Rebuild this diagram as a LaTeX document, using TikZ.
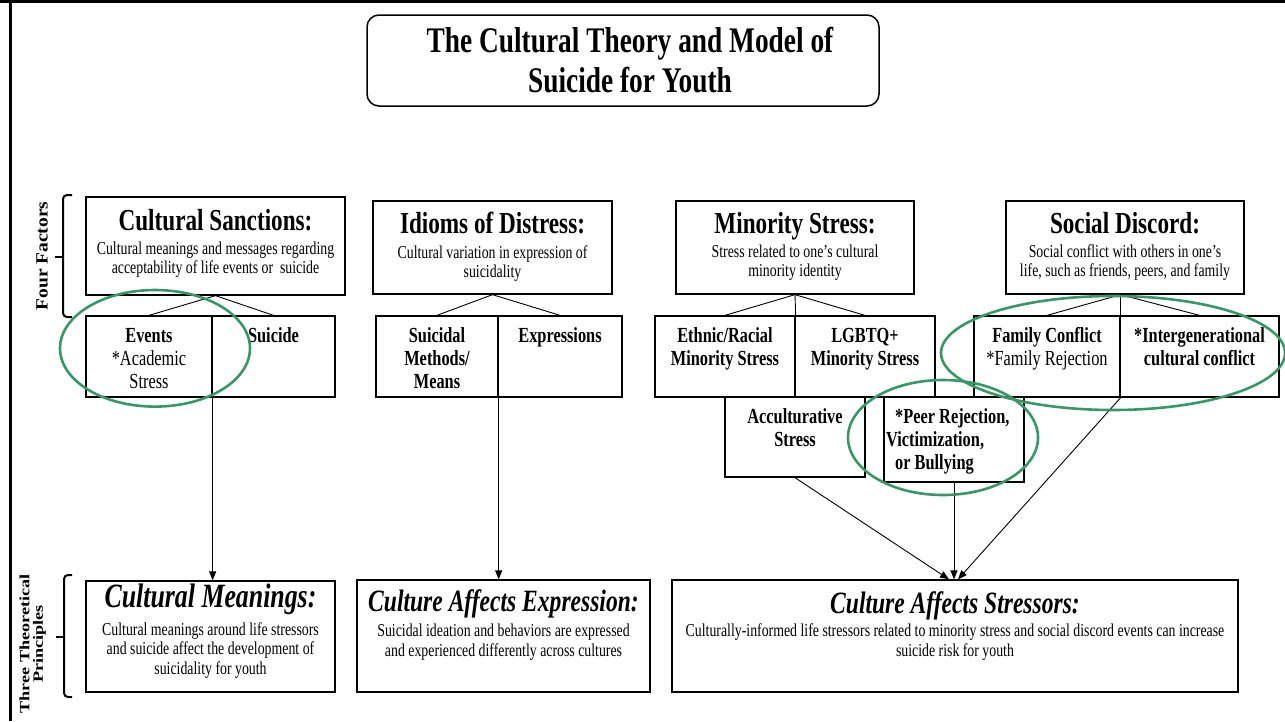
\documentclass[tikz,border=0pt]{standalone}
\usepackage{fontspec}
\usepackage{graphicx}
\setmainfont[FakeStretch=0.76]{Liberation Serif}
\newfontfamily\sidefont{Liberation Serif}
\usetikzlibrary{arrows.meta,fit}
\definecolor{ringgreen}{RGB}{56,150,104}
\newcommand\titlesize{\fontsize{36}{40}\selectfont\bfseries}
\newcommand\headsize{\fontsize{30.5}{34}\selectfont\bfseries}
\newcommand\bighead{\fontsize{31}{34}\selectfont\bfseries\itshape}
\newcommand\descsize{\fontsize{18.2}{19.6}\selectfont}
\newcommand\subsize{\fontsize{21.5}{23}\selectfont}
\begin{document}
\begin{tikzpicture}[x=1pt,y=-1pt,
  box/.style={draw=black,line width=1.3pt,inner sep=0pt},
  conn/.style={draw=black,line width=0.9pt},
  arr/.style={draw=black,line width=0.9pt,-{Triangle[length=9pt,width=7pt]}},
  ring/.style={draw=ringgreen,line width=2.6pt},
  txt/.style={inner sep=0pt,anchor=base,align=flush center},
  frameline/.style={line width=3pt},
  bracket/.style={line width=2pt,rounded corners=4pt},
  side/.style={inner sep=0pt,rotate=90,align=center}
]
\useasboundingbox (0,0) rectangle (1285,721);
% frame
\draw[frameline] (0,1.5) -- (1285,1.5);
\draw[frameline] (10,0) -- (10,721);

% title
\node[box,line width=1.5pt,rounded corners=12pt,fit={(367,15) (879,106)}] (titlebox) {};
\node[txt,font=\titlesize,text width=500pt] (titletext) at (630,52) {The Cultural Theory and Model of\\Suicide for Youth};

% four factor boxes
\node[box,fit={(86,197) (345,295)}] (cs) {};
\node[box,fit={(373,201) (612,294)}] (idd) {};
\node[box,fit={(676,201) (914,294)}] (ms) {};
\node[box,fit={(1006,201) (1244,294)}] (sd) {};

\node[txt,font=\headsize] (csh) at (215.5,230) {Cultural Sanctions:};
\node[txt,font=\descsize,text width=256pt] (csd) at (215.5,254) {Cultural meanings and messages regarding\\acceptability of life events or\ \ suicide};
\node[txt,font=\headsize] (idh) at (492.5,233) {Idioms of Distress:};
\node[txt,font=\descsize,text width=236pt] (idt) at (492.5,258) {Cultural variation in expression of\\suicidality};
\node[txt,font=\headsize] (msh) at (795,233) {Minority Stress:};
\node[txt,font=\descsize,text width=236pt] (mst) at (795,257) {Stress related to one’s cultural\\minority identity};
\node[txt,font=\headsize] (sdh) at (1125,233) {Social Discord:};
\node[txt,font=\descsize,text width=236pt] (sdt) at (1125,257) {Social conflict with others in one’s\\life, such as friends, peers, and family};

% sub boxes
\node[box,fit={(86,316) (212,397)}] (ev) {};
\node[box,fit={(212,316) (335,397)}] (su) {};
\node[box,fit={(376,316) (498,397)}] (mm) {};
\node[box,fit={(498,316) (622,397)}] (ex) {};
\node[box,fit={(655,316) (795,397)}] (er) {};
\node[box,fit={(795,316) (935,397)}] (lg) {};
\node[box,fit={(974,316) (1120,397)}] (fc) {};
\node[box,fit={(1120,316) (1279,397)}] (ig) {};
\node[box,fit={(725,397) (865,477)}] (ac) {};
\node[box,fit={(884,397) (1024,482)}] (pr) {};

\node[txt,font=\subsize,text width=124pt] (evt) at (149,342) {{\bfseries Events}\\{}*Academic\\Stress};
\node[txt,font=\subsize\bfseries] (sut) at (273.5,342) {Suicide};
\node[txt,font=\subsize\bfseries,text width=120pt] (mmt) at (437,342) {Suicidal\\Methods/\\Means};
\node[txt,font=\subsize\bfseries] (ext) at (560,342) {Expressions};
\node[txt,font=\subsize\bfseries,text width=140pt] (ert) at (725,342) {Ethnic/Racial\\Minority Stress};
\node[txt,font=\subsize\bfseries,text width=140pt] (lgt) at (865,342) {LGBTQ+\\Minority Stress};
\node[txt,font=\subsize,text width=146pt] (fct) at (1047,342) {{\bfseries Family Conflict}\\{}*Family Rejection};
\node[txt,font=\subsize\bfseries,text width=159pt] (igt) at (1199.5,342) {*Intergenerational\\cultural conflict};
\node[txt,font=\subsize\bfseries,text width=140pt] (act) at (795,423) {Acculturative\\Stress};
\node[inner sep=0pt,anchor=base west,align=flush left,font=\subsize\bfseries,text width=138pt] (prt) at (886,423) {\hspace*{9pt}*Peer Rejection,\\Victimization,\\\hspace*{9pt}or Bullying};

% connectors factor -> sub
\draw[conn] (cs.south) -- (ev.north);
\draw[conn] (cs.south) -- (su.north);
\draw[conn] (idd.south) -- (mm.north);
\draw[conn] (idd.south) -- (ex.north);
\draw[conn] (ms.south) -- (er.north);
\draw[conn] (ms.south) -- (lg.north);
\draw[conn] (ms.south) -- (er.north east);
\coordinate (sdfoot) at (fc.north east |- sd.south);
\draw[conn] (sdfoot) -- (fc.north);
\draw[conn] (sdfoot) -- (ig.north);
\draw[conn] (sdfoot) -- (fc.north east);

% principle boxes
\node[box,fit={(86,581) (335,692)}] (cm) {};
\node[box,fit={(357,580) (650,692)}] (cae) {};
\node[box,fit={(672,580) (1238,692)}] (cas) {};

\node[txt,font=\fontsize{34}{36}\selectfont\bfseries\itshape] (cmh) at (210.5,607) {Cultural Meanings:};
\node[txt,font=\descsize,text width=245pt] (cmd) at (210.5,635) {Cultural meanings around life stressors\\and suicide affect the development of\\suicidality for youth};
\node[txt,font=\bighead] (caeh) at (503.5,611.5) {Culture Affects Expression:};
\node[txt,font=\descsize,text width=290pt] (caed) at (503.5,636.5) {Suicidal ideation and behaviors are expressed\\and experienced differently across cultures};
\node[txt,font=\bighead] (cash) at (955,613) {Culture Affects Stressors:};
\node[txt,font=\descsize,text width=566pt] (casd) at (955,636.5) {Culturally-informed life stressors related to minority stress and social discord events can increase\\suicide risk for youth};

% arrows
\draw[arr] (ev.south east) -- (ev.south east |- cm.north);
\draw[arr] (mm.south east) -- (mm.south east |- cae.north);
\draw[arr] (ac.south) -- ([xshift=-6pt]cas.north);
\draw[arr] (pr.south) -- (pr.south |- cas.north);
\draw[arr] (fc.south east) -- ([xshift=3pt]cas.north);

% braces
\draw[bracket] (72,195) -- (63,195) -- (63,317) -- (72,317);
\draw[line width=2.5pt] (63,257) -- (55,257);
\draw[bracket] (72,575) -- (64,575) -- (64,697) -- (72,697);
\draw[line width=2.5pt] (64,637) -- (56,637);

% side labels
\node[side,font=\sidefont\bfseries\fontsize{19.5}{20}\selectfont] (fflab) at (42,256) {\scalebox{1}[0.88]{Four Factors}};
\node[side,font=\sidefont\bfseries\fontsize{18.2}{16}\selectfont] (ttplab) at (33,644) {\scalebox{1}[0.78]{\begin{tabular}{@{}c@{}}Three Theoretical\\Principles\end{tabular}}};

% green rings
\draw[ring] (155,348.3) ellipse [x radius=95, y radius=58.3];
\draw[ring] (943,437.5) ellipse [x radius=95, y radius=57.5];
\draw[ring] (1113,353) ellipse [x radius=172, y radius=57];
\end{tikzpicture}
\end{document}
